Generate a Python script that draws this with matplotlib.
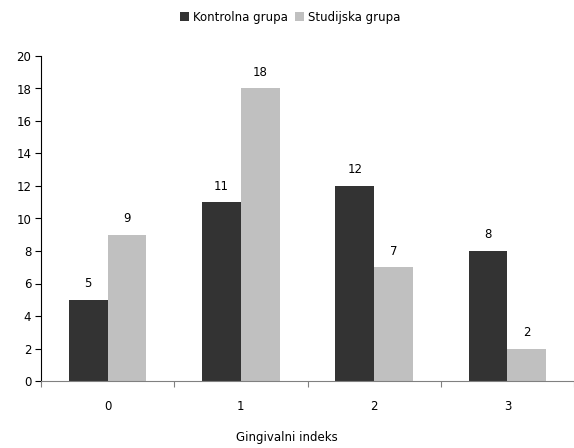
import matplotlib
matplotlib.use("Agg")
import matplotlib.pyplot as plt
import numpy as np
from matplotlib.patches import Patch

categories = ["0", "1", "2", "3"]
kontrolna = [5, 11, 12, 8]
studijska = [9, 18, 7, 2]
series_names = ["Kontrolna grupa", "Studijska grupa"]
colors = ["#333333", "#c0c0c0"]

plt.rcParams["font.family"] = ["DejaVu Sans"]
fig = plt.figure(figsize=(5.74, 4.48), dpi=100)
ax = fig.add_axes([41/574, 1 - 381/448, 1 - 41/574, (381 - 56)/448])

x = np.arange(len(categories))
w = 0.29
b1 = ax.bar(x - w/2, kontrolna, w, color=colors[0], linewidth=0)
b2 = ax.bar(x + w/2, studijska, w, color=colors[1], linewidth=0)
for bars, vals in ((b1, kontrolna), (b2, studijska)):
    for r, v in zip(bars, vals):
        ax.annotate(str(v), (r.get_x() + r.get_width()/2, v), xytext=(0, 7),
                    textcoords="offset points", ha="center", va="bottom", fontsize=8.5)

ax.set_xlim(-0.5, 3.5)
ax.set_ylim(0, 20)
ax.set_yticks(range(0, 21, 2))
ax.set_xticks(np.arange(-0.5, 4.0, 1.0))
ax.set_xticklabels([])
ax.set_xticks(x, minor=True)
ax.set_xticklabels(categories, minor=True, fontsize=8.5)
ax.tick_params(axis="x", which="minor", length=0, pad=14)
ax.tick_params(axis="x", which="major", length=4, direction="out", color="#808080")
ax.tick_params(axis="y", length=4, direction="out", labelsize=8.5, pad=3)
for s in ("top", "right"):
    ax.spines[s].set_visible(False)
ax.spines["bottom"].set_color("#808080")
ax.spines["left"].set_color("black")
ax.spines["left"].set_linewidth(0.8)

fig.text(287/574, 1 - 437/448, "Gingivalni indeks", ha="center", va="center", fontsize=8.5)
handles = [Patch(facecolor=c, edgecolor="none") for c in colors]
fig.legend(handles, series_names, loc="center", bbox_to_anchor=(290/574, 1 - 17/448),
           ncol=2, frameon=False, fontsize=8.5, handlelength=0.8, handleheight=0.8,
           handletextpad=0.3, columnspacing=0.6)

fig.savefig("out.png", dpi=100)
